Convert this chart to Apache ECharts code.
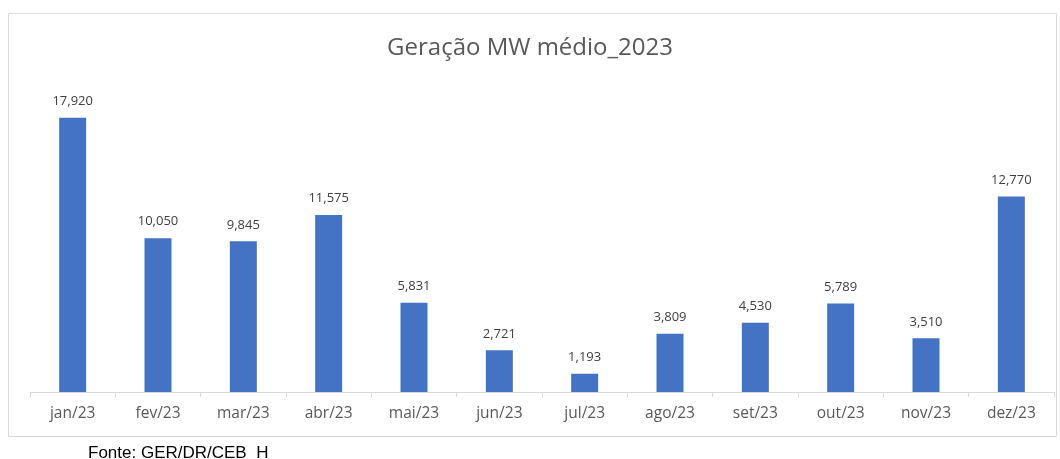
<!DOCTYPE html>
<html>
<head>
<meta charset="utf-8">
<script src="https://cdn.jsdelivr.net/npm/echarts@6/dist/echarts.min.js"></script>
<style>
  html, body { margin: 0; padding: 0; background: #fff; }
  #chart { width: 1060px; height: 459px; }
</style>
</head>
<body>
<div id="chart"></div>
<script>
// data
var months = ['jan/23', 'fev/23', 'mar/23', 'abr/23', 'mai/23', 'jun/23',
              'jul/23', 'ago/23', 'set/23', 'out/23', 'nov/23', 'dez/23'];
var geracao = [17920, 10050, 9845, 11575, 5831, 2721, 1193, 3809, 4530, 5789, 3510, 12770];

var chart = echarts.init(document.getElementById('chart'));
chart.setOption({
  animation: false,
  title: {
    text: 'Geração MW médio_2023',
    left: 'center',
    top: 31,
    textStyle: { fontFamily: 'Open Sans', fontSize: 24, fontWeight: 'normal', color: '#595959' }
  },
  graphic: [
    {
      type: 'rect',
      shape: { x: 8.5, y: 13.5, width: 1048, height: 423 },
      style: { fill: 'none', stroke: '#d9d9d9', lineWidth: 1 },
      z: -1
    },
    {
      type: 'text',
      left: 88,
      top: 445,
      style: { text: 'Fonte: GER/DR/CEB_H', fontFamily: 'Liberation Sans', fontSize: 17, fill: '#000' }
    }
  ],
  grid: { left: 30, right: 6, top: 86, bottom: 67 },
  xAxis: {
    type: 'category',
    data: months,
    axisLine: { lineStyle: { color: '#d9d9d9' } },
    axisTick: { show: true, length: 5, lineStyle: { color: '#d9d9d9' } },
    axisLabel: { fontFamily: 'Open Sans', fontSize: 15.5, color: '#595959', margin: 14 }
  },
  yAxis: {
    type: 'value',
    min: 0,
    max: 20000,
    show: false,
    splitLine: { show: false }
  },
  series: [{
    type: 'bar',
    data: geracao,
    barWidth: 27,
    itemStyle: { color: '#4472c4' },
    label: {
      show: true,
      position: 'top',
      distance: 10,
      fontFamily: 'Open Sans',
      fontSize: 13,
      color: '#404040',
      formatter: function (p) { return p.value.toLocaleString('en-US'); }
    }
  }]
});
</script>
</body>
</html>
